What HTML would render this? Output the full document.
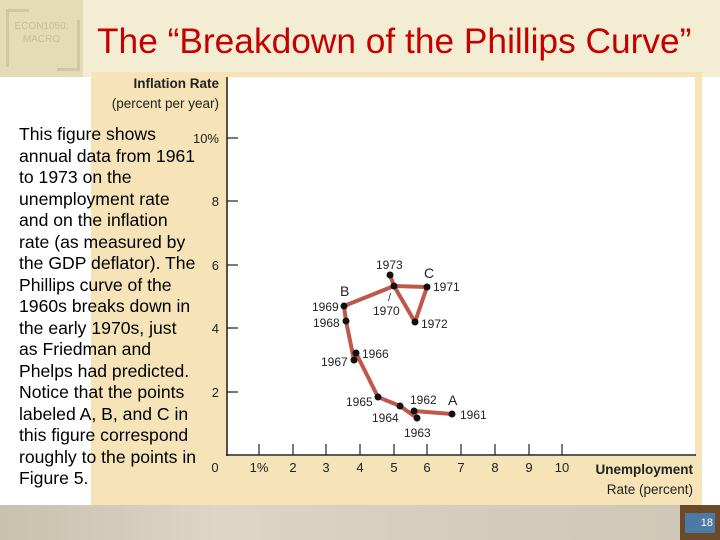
<!DOCTYPE html>
<html><head><meta charset="utf-8"><style>
body{margin:0;width:720px;height:540px;position:relative;overflow:hidden;background:#fff;font-family:"Liberation Sans",Arial,sans-serif}
.band{position:absolute;left:0;top:0;width:720px;height:77px;background:#f3eed3}
.logo{position:absolute;left:0;top:0;width:83px;height:77px;background:#e3dcb7}
.logo .t{position:absolute;left:0;width:83px;top:20px;text-align:center;font-size:10px;color:#c5bd9b;line-height:13px}
.logo .b1{position:absolute;left:6px;top:9px;width:20px;height:55px;border-left:3px solid #cfc7a6;border-top:3px solid #cfc7a6}
.logo .b2{position:absolute;left:57px;top:20px;width:20px;height:48px;border-right:3px solid #cfc7a6;border-bottom:3px solid #cfc7a6}
.title{position:absolute;left:97px;top:22px;font-size:35.3px;color:#c40000;white-space:nowrap}
.panel{position:absolute;left:91px;top:72px;width:611px;height:433px;background:#f6e3b8}
.plot{position:absolute;left:228px;top:77px;width:467px;height:379px;background:#fff}
.txt{position:absolute;left:19px;top:124px;font-size:17.6px;line-height:21.5px;color:#000}
.bottom{position:absolute;left:0;top:505px;width:720px;height:35px;background:linear-gradient(90deg,#c9c0ad,#ddd5c6 30%,#d6cdbd 60%,#cfc6b4)}
.pg{position:absolute;left:680px;top:505px;width:40px;height:35px;background:#6b4a2a}
.pg div{position:absolute;left:5px;top:8px;width:30px;height:20px;background:#4a7aa5;color:#fff;font-size:11px;text-align:right;line-height:20px;padding-right:2px;box-sizing:border-box}
svg{position:absolute;left:0;top:0}
</style></head><body>
<div class="band"></div>
<div class="logo"><div class="b1"></div><div class="b2"></div><div class="t">ECON1050:<br>MACRO</div></div>
<div class="title">The “Breakdown of the Phillips Curve”</div>
<div class="panel"></div>
<div class="plot"></div>
<div class="bottom"></div>
<div class="pg"><div>18</div></div>
<svg width="720" height="540" font-family="Liberation Sans Narrow, Liberation Sans, sans-serif" font-size="12" fill="#222">
<text x="219" y="88" text-anchor="end" font-weight="bold" font-size="13.5">Inflation Rate</text>
<text x="219" y="108" text-anchor="end" font-size="13.5">(percent per year)</text>
<line x1="227" y1="77" x2="227" y2="456" stroke="#222" stroke-width="1.5"/>
<line x1="226" y1="455" x2="696" y2="455" stroke="#222" stroke-width="1.5"/>
<g stroke="#222" stroke-width="1.2">
<line x1="227" y1="138" x2="238" y2="138"/><line x1="227" y1="201" x2="238" y2="201"/><line x1="227" y1="265" x2="238" y2="265"/><line x1="227" y1="328" x2="238" y2="328"/><line x1="227" y1="392" x2="238" y2="392"/>
<line x1="259" y1="444" x2="259" y2="455"/><line x1="293" y1="444" x2="293" y2="455"/><line x1="326" y1="444" x2="326" y2="455"/><line x1="360" y1="444" x2="360" y2="455"/><line x1="394" y1="444" x2="394" y2="455"/><line x1="427" y1="444" x2="427" y2="455"/><line x1="461" y1="444" x2="461" y2="455"/><line x1="495" y1="444" x2="495" y2="455"/><line x1="529" y1="444" x2="529" y2="455"/><line x1="562" y1="444" x2="562" y2="455"/>
</g>
<g text-anchor="end" font-size="13">
<text x="219" y="143">10%</text><text x="219" y="206">8</text><text x="219" y="270">6</text><text x="219" y="333">4</text><text x="219" y="397">2</text></g>
<g text-anchor="middle" font-size="13">
<text x="215" y="472">0</text><text x="259" y="472">1%</text><text x="293" y="472">2</text><text x="326" y="472">3</text><text x="360" y="472">4</text><text x="394" y="472">5</text><text x="427" y="472">6</text><text x="461" y="472">7</text><text x="495" y="472">8</text><text x="529" y="472">9</text><text x="562" y="472">10</text></g>
<text x="693" y="474" text-anchor="end" font-weight="bold" font-size="13.5">Unemployment</text>
<text x="693" y="494" text-anchor="end" font-size="13.5">Rate (percent)</text>
<polyline points="452,414 414,411 417,418 400,406 378,397 356,353 354,360 346,321 344,306 394,286 427,287 415,322 394,286 390,275" fill="none" stroke="#c0584a" stroke-width="4" stroke-linejoin="round"/>
<g fill="#111">
<circle cx="452" cy="414" r="3.5"/><circle cx="414" cy="411" r="3.5"/><circle cx="417" cy="418" r="3.5"/><circle cx="400" cy="406" r="3.5"/><circle cx="378" cy="397" r="3.5"/><circle cx="356" cy="353" r="3.5"/><circle cx="354" cy="360" r="3.5"/><circle cx="346" cy="321" r="3.5"/><circle cx="344" cy="306" r="3.5"/><circle cx="394" cy="286" r="3.5"/><circle cx="427" cy="287" r="3.5"/><circle cx="415" cy="322" r="3.5"/><circle cx="390" cy="275" r="3.5"/></g>
<g font-size="12">
<text x="460" y="419">1961</text><text x="410" y="404">1962</text><text x="404" y="437">1963</text><text x="372" y="422">1964</text><text x="346" y="406">1965</text><text x="362" y="358">1966</text><text x="321" y="366">1967</text><text x="313" y="327">1968</text><text x="312" y="311">1969</text><text x="373" y="315">1970</text><text x="433" y="291">1971</text><text x="421" y="328">1972</text><text x="376" y="269">1973</text>
<text x="388" y="301" font-size="11">/</text>
<text x="340" y="296" font-size="14">B</text><text x="424" y="278" font-size="14">C</text><text x="448" y="405" font-size="14">A</text></g>
</svg>
<div class="txt">This figure shows<br>annual data from 1961<br>to 1973 on the<br>unemployment rate<br>and on the inflation<br>rate (as measured by<br>the GDP deflator). The<br>Phillips curve of the<br>1960s breaks down in<br>the early 1970s, just<br>as Friedman and<br>Phelps had predicted.<br>Notice that the points<br>labeled A, B, and C in<br>this figure correspond<br>roughly to the points in<br>Figure 5.</div>
</body></html>
